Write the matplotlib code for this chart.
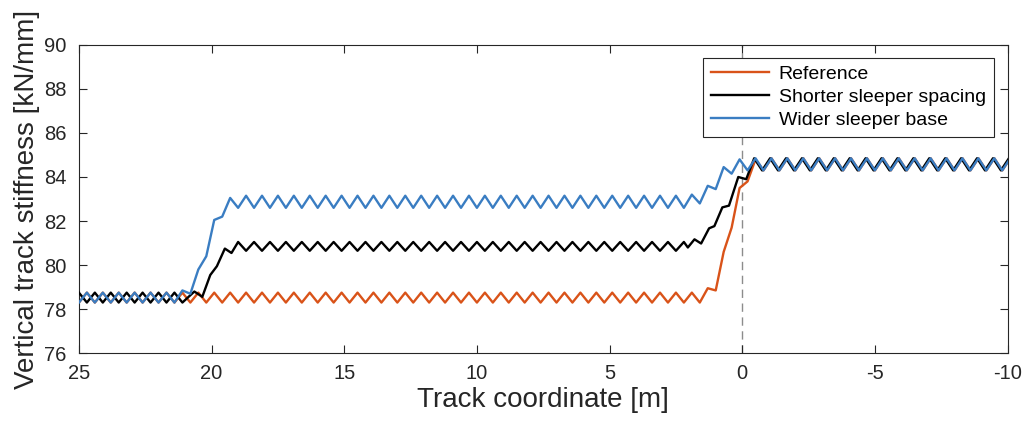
import matplotlib
matplotlib.use("Agg")
import matplotlib.pyplot as plt

plt.rcParams['font.family'] = ['Liberation Sans', 'DejaVu Sans']

# track coordinate of each plotted point (reference and wider base share it)
x_track = [25.0, 24.7, 24.4, 24.1, 23.8, 23.5, 23.2, 22.9, 22.6, 22.3,
           22.0, 21.7, 21.4, 21.1, 20.8, 20.5, 20.2, 19.9, 19.6, 19.3,
           19.0, 18.7, 18.4, 18.1, 17.8, 17.5, 17.2, 16.9, 16.6, 16.3,
           16.0, 15.7, 15.4, 15.1, 14.8, 14.5, 14.2, 13.9, 13.6, 13.3,
           13.0, 12.7, 12.4, 12.1, 11.8, 11.5, 11.2, 10.9, 10.6, 10.3,
           10.0, 9.7, 9.4, 9.1, 8.8, 8.5, 8.2, 7.9, 7.6, 7.3,
           7.0, 6.7, 6.4, 6.1, 5.8, 5.5, 5.2, 4.9, 4.6, 4.3,
           4.0, 3.7, 3.4, 3.1, 2.8, 2.5, 2.2, 1.9, 1.6, 1.3,
           1.0, 0.7, 0.4, 0.1, -0.2, -0.5, -0.8, -1.1, -1.4, -1.7,
           -2.0, -2.3, -2.6, -2.9, -3.2, -3.5, -3.8, -4.1, -4.4, -4.7,
           -5.0, -5.3, -5.6, -5.9, -6.2, -6.5, -6.8, -7.1, -7.4, -7.7,
           -8.0, -8.3, -8.6, -8.9, -9.2, -9.5, -9.8, -10.1]

reference = [78.3, 78.75, 78.3, 78.75, 78.3, 78.75, 78.3, 78.75, 78.3, 78.75,
             78.3, 78.75, 78.3, 78.75, 78.3, 78.75, 78.3, 78.75, 78.3, 78.75,
             78.3, 78.75, 78.3, 78.75, 78.3, 78.75, 78.3, 78.75, 78.3, 78.75,
             78.3, 78.75, 78.3, 78.75, 78.3, 78.75, 78.3, 78.75, 78.3, 78.75,
             78.3, 78.75, 78.3, 78.75, 78.3, 78.75, 78.3, 78.75, 78.3, 78.75,
             78.3, 78.75, 78.3, 78.75, 78.3, 78.75, 78.3, 78.75, 78.3, 78.75,
             78.3, 78.75, 78.3, 78.75, 78.3, 78.75, 78.3, 78.75, 78.3, 78.75,
             78.3, 78.75, 78.3, 78.75, 78.3, 78.75, 78.3, 78.75, 78.3, 78.95,
             78.85, 80.6, 81.7, 83.5, 83.8, 84.8, 84.3, 84.85, 84.3, 84.85,
             84.3, 84.85, 84.3, 84.85, 84.3, 84.85, 84.3, 84.85, 84.3, 84.85,
             84.3, 84.85, 84.3, 84.85, 84.3, 84.85, 84.3, 84.85, 84.3, 84.85,
             84.3, 84.85, 84.3, 84.85, 84.3, 84.85, 84.3, 84.85]

wider_base = [78.3, 78.75, 78.3, 78.75, 78.3, 78.75, 78.3, 78.75, 78.3, 78.75,
              78.3, 78.75, 78.3, 78.85, 78.7, 79.8, 80.4, 82.05, 82.2, 83.05,
              82.6, 83.15, 82.6, 83.15, 82.6, 83.15, 82.6, 83.15, 82.6, 83.15,
              82.6, 83.15, 82.6, 83.15, 82.6, 83.15, 82.6, 83.15, 82.6, 83.15,
              82.6, 83.15, 82.6, 83.15, 82.6, 83.15, 82.6, 83.15, 82.6, 83.15,
              82.6, 83.15, 82.6, 83.15, 82.6, 83.15, 82.6, 83.15, 82.6, 83.15,
              82.6, 83.15, 82.6, 83.15, 82.6, 83.15, 82.6, 83.15, 82.6, 83.15,
              82.6, 83.15, 82.6, 83.15, 82.6, 83.15, 82.6, 83.2, 82.8, 83.6,
              83.45, 84.45, 84.15, 84.8, 84.3, 84.85, 84.3, 84.85, 84.3, 84.85,
              84.3, 84.85, 84.3, 84.85, 84.3, 84.85, 84.3, 84.85, 84.3, 84.85,
              84.3, 84.85, 84.3, 84.85, 84.3, 84.85, 84.3, 84.85, 84.3, 84.85,
              84.3, 84.85, 84.3, 84.85, 84.3, 84.85, 84.3, 84.85]

# shorter sleeper spacing has its own point positions in the transition zones
x_short = [25.0, 24.7, 24.4, 24.1, 23.8, 23.5, 23.2, 22.9, 22.6, 22.3,
           22.0, 21.7, 21.4, 21.1, 20.65, 20.35, 20.05, 19.8, 19.5, 19.25,
           19.0, 18.7, 18.4, 18.1, 17.8, 17.5, 17.2, 16.9, 16.6, 16.3,
           16.0, 15.7, 15.4, 15.1, 14.8, 14.5, 14.2, 13.9, 13.6, 13.3,
           13.0, 12.7, 12.4, 12.1, 11.8, 11.5, 11.2, 10.9, 10.6, 10.3,
           10.0, 9.7, 9.4, 9.1, 8.8, 8.5, 8.2, 7.9, 7.6, 7.3,
           7.0, 6.7, 6.4, 6.1, 5.8, 5.5, 5.2, 4.9, 4.6, 4.3,
           4.0, 3.7, 3.4, 3.1, 2.8, 2.5, 2.2, 2.05, 1.8, 1.55,
           1.25, 1.05, 0.75, 0.5, 0.15, -0.15, -0.45, -0.75, -1.05, -1.35,
           -1.65, -1.95, -2.25, -2.55, -2.85, -3.15, -3.45, -3.75, -4.05, -4.35,
           -4.65, -4.95, -5.25, -5.55, -5.85, -6.15, -6.45, -6.75, -7.05, -7.35,
           -7.65, -7.95, -8.25, -8.55, -8.85, -9.15, -9.45, -9.75, -10.05]

shorter_spacing = [78.75, 78.3, 78.75, 78.3, 78.75, 78.3, 78.75, 78.3, 78.75, 78.3,
                   78.75, 78.3, 78.75, 78.3, 78.8, 78.56, 79.55, 79.95, 80.75, 80.55,
                   81.05, 80.65, 81.05, 80.65, 81.05, 80.65, 81.05, 80.65, 81.05, 80.65,
                   81.05, 80.65, 81.05, 80.65, 81.05, 80.65, 81.05, 80.65, 81.05, 80.65,
                   81.05, 80.65, 81.05, 80.65, 81.05, 80.65, 81.05, 80.65, 81.05, 80.65,
                   81.05, 80.65, 81.05, 80.65, 81.05, 80.65, 81.05, 80.65, 81.05, 80.65,
                   81.05, 80.65, 81.05, 80.65, 81.05, 80.65, 81.05, 80.65, 81.05, 80.65,
                   81.05, 80.65, 81.05, 80.65, 81.05, 80.65, 81.05, 80.8, 81.17, 80.98,
                   81.67, 81.77, 82.62, 82.7, 84.0, 83.9, 84.85, 84.3, 84.85, 84.3,
                   84.85, 84.3, 84.85, 84.3, 84.85, 84.3, 84.85, 84.3, 84.85, 84.3,
                   84.85, 84.3, 84.85, 84.3, 84.85, 84.3, 84.85, 84.3, 84.85, 84.3,
                   84.85, 84.3, 84.85, 84.3, 84.85, 84.3, 84.85, 84.3, 84.85]

x_ticks = [25, 20, 15, 10, 5, 0, -5, -10]
x_ticklabels = ['25', '20', '15', '10', '5', '0', '-5', '-10']
y_ticks = [76, 78, 80, 82, 84, 86, 88, 90]

assert len(x_track) == len(reference) == len(wider_base)
assert len(x_short) == len(shorter_spacing)

fig = plt.figure(figsize=(10.25, 4.23), dpi=100)
ax = fig.add_axes([0.077, 0.165, 0.906, 0.729])

dark = '#262626'
ax.axvline(0, color='#8c8c8c', linestyle=(0, (6, 4)), linewidth=1.0, zorder=1)
ax.plot(x_track, reference, color='#D95319', linewidth=1.7, label='Reference', zorder=2)
ax.plot(x_short, shorter_spacing, color='black', linewidth=1.7,
        label='Shorter sleeper spacing', zorder=3)
ax.plot(x_track, wider_base, color='#3A7DC2', linewidth=1.7,
        label='Wider sleeper base', zorder=4)

ax.set_xlim(25, -10)
ax.set_ylim(76, 90)
ax.set_xticks(x_ticks)
ax.set_xticklabels(x_ticklabels)
ax.set_yticks(y_ticks)
ax.tick_params(direction='in', length=6, width=0.8, top=True, right=True,
               labelsize=14.5, colors=dark)
ax.tick_params(axis='x', pad=8)
ax.tick_params(axis='y', pad=9)
for s in ax.spines.values():
    s.set_color(dark)
    s.set_linewidth(0.8)

ax.set_xlabel('Track coordinate [m]', fontsize=20, color=dark, labelpad=3)
ax.set_ylabel('Vertical track stiffness [kN/mm]', fontsize=20, color=dark, labelpad=3)

leg = ax.legend(loc='upper right', bbox_to_anchor=(0.985, 0.958), borderaxespad=0,
                fontsize=14, handlelength=3.0, handletextpad=0.5,
                labelspacing=0.27, borderpad=0.4, fancybox=False, framealpha=1)
leg.get_frame().set_edgecolor(dark)
leg.get_frame().set_linewidth(0.8)
leg.set_zorder(10)

fig.savefig('out.png', dpi=100)
